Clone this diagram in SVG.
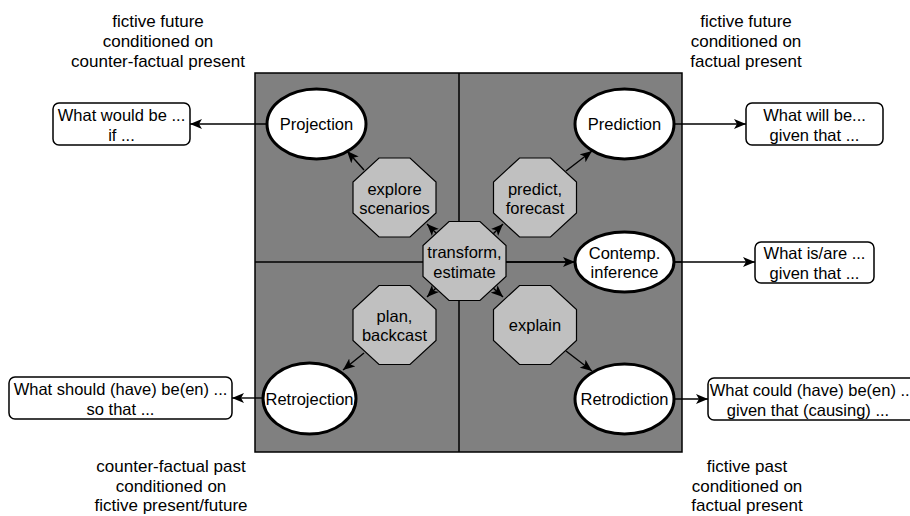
<svg xmlns="http://www.w3.org/2000/svg" width="910" height="516" viewBox="0 0 910 516">
<defs>
<style>
text{font-family:"Liberation Sans",Arial,Helvetica,sans-serif;fill:#000;text-anchor:middle}
.n{font-size:16.5px}
.lab{font-size:17px}
.ell{fill:#fff;stroke:#000;stroke-width:3}
.oct{fill:#c0c0c0;stroke:#000;stroke-width:1.2}
.box{fill:#fff;stroke:#000;stroke-width:1.5}
.edge{stroke:#000;stroke-width:1.4;fill:none;marker-end:url(#arr)}
</style>
<marker id="arr" viewBox="0 0 12 10" refX="12" refY="5" markerWidth="12" markerHeight="10" orient="auto" markerUnits="userSpaceOnUse">
<path d="M0,0 L12,5 L0,10 L3,5 z" fill="#000"/>
</marker>
</defs>
<rect width="910" height="516" fill="#fff"/>

<g id="labels">
<text class="lab" x="158" y="27">fictive future</text>
<text class="lab" x="158" y="47">conditioned on</text>
<text class="lab" x="158" y="67">counter-factual present</text>
<text class="lab" x="746" y="27">fictive future</text>
<text class="lab" x="746" y="47">conditioned on</text>
<text class="lab" x="746" y="67">factual present</text>
<text class="lab" x="171" y="472">counter-factual past</text>
<text class="lab" x="171" y="492">conditioned on</text>
<text class="lab" x="171" y="511">fictive present/future</text>
<text class="lab" x="747" y="472">fictive past</text>
<text class="lab" x="747" y="492">conditioned on</text>
<text class="lab" x="747" y="511">factual present</text>
</g>

<g id="quadrants">
<rect x="255" y="73" width="427" height="379" fill="#808080" stroke="#000" stroke-width="1.5"/>
<line x1="459" y1="73" x2="459" y2="452" stroke="#000" stroke-width="1.5"/>
<line x1="255" y1="262" x2="682" y2="262" stroke="#000" stroke-width="1.5"/>
</g>

<g id="connectors">
<line class="edge" x1="267" y1="124" x2="190" y2="124"/>
<line class="edge" x1="674" y1="124" x2="746" y2="124"/>
<line class="edge" x1="674" y1="262" x2="755" y2="262"/>
<line class="edge" x1="263" y1="398" x2="232" y2="398"/>
<line class="edge" x1="674" y1="399" x2="708" y2="399"/>
<line class="edge" x1="506" y1="262" x2="575" y2="262"/>
<line class="edge" x1="364" y1="170" x2="347" y2="151"/>
<line class="edge" x1="566" y1="171" x2="592" y2="151"/>
<line class="edge" x1="364" y1="353" x2="343" y2="370"/>
<line class="edge" x1="566" y1="351" x2="592" y2="371"/>
<line class="edge" x1="438" y1="235" x2="427" y2="224"/>
<line class="edge" x1="492" y1="235" x2="503" y2="224"/>
<line class="edge" x1="438" y1="286" x2="427" y2="297"/>
<line class="edge" x1="491" y1="286" x2="503" y2="297"/>
</g>

<g id="box-projection">
<rect class="box" x="53" y="103" width="137" height="42" rx="6"/>
<text class="n" x="121.5" y="121">What would be ...</text>
<text class="n" x="121.5" y="141">if ...</text>
</g>
<g id="box-prediction">
<rect class="box" x="746" y="103" width="137" height="42" rx="6"/>
<text class="n" x="814.5" y="121">What will be...</text>
<text class="n" x="814.5" y="141">given that ...</text>
</g>
<g id="box-contemp">
<rect class="box" x="755" y="242" width="119" height="41" rx="6"/>
<text class="n" x="814.5" y="259">What is/are ...</text>
<text class="n" x="814.5" y="279">given that ...</text>
</g>
<g id="box-retrojection">
<rect class="box" x="9" y="377" width="223" height="42" rx="6"/>
<text class="n" x="120.5" y="395">What should (have) be(en) ...</text>
<text class="n" x="120.5" y="415">so that ...</text>
</g>
<g id="box-retrodiction">
<rect class="box" x="708" y="378" width="210" height="42" rx="6"/>
<text class="n" x="812" y="396">What could (have) be(en) ...</text>
<text class="n" x="808" y="416">given that (causing) ...</text>
</g>

<g id="projection">
<ellipse class="ell" cx="316.5" cy="124" rx="49.5" ry="35"/>
<text class="n" x="316.5" y="130">Projection</text>
</g>
<g id="prediction">
<ellipse class="ell" cx="624.5" cy="124" rx="49.5" ry="35"/>
<text class="n" x="624.5" y="130">Prediction</text>
</g>
<g id="contemp">
<ellipse class="ell" cx="624.5" cy="262" rx="49.5" ry="30"/>
<text class="n" x="624.5" y="259">Contemp.</text>
<text class="n" x="624.5" y="278">inference</text>
</g>
<g id="retrojection">
<ellipse class="ell" cx="309.5" cy="398.5" rx="46.5" ry="35.5"/>
<text class="n" x="309.5" y="404.5">Retrojection</text>
</g>
<g id="retrodiction">
<ellipse class="ell" cx="624.5" cy="399" rx="49.5" ry="35"/>
<text class="n" x="624.5" y="405">Retrodiction</text>
</g>

<g id="explore">
<polygon class="oct" points="379,158 410,158 436,182 436,213 410,237 379,237 353,213 353,182"/>
<text class="n" x="394.5" y="195">explore</text>
<text class="n" x="394.5" y="214">scenarios</text>
</g>
<g id="predict">
<polygon class="oct" points="519.5,158 550.5,158 576.5,182 576.5,213 550.5,237 519.5,237 493.5,213 493.5,182"/>
<text class="n" x="535" y="195">predict,</text>
<text class="n" x="535" y="214">forecast</text>
</g>
<g id="plan">
<polygon class="oct" points="379,285.5 410,285.5 436,309.5 436,340.5 410,364.5 379,364.5 353,340.5 353,309.5"/>
<text class="n" x="394.5" y="322">plan,</text>
<text class="n" x="394.5" y="341">backcast</text>
</g>
<g id="explain">
<polygon class="oct" points="519.5,285.5 550.5,285.5 576.5,309.5 576.5,340.5 550.5,364.5 519.5,364.5 493.5,340.5 493.5,309.5"/>
<text class="n" x="535" y="331">explain</text>
</g>
<g id="transform">
<polygon class="oct" points="449,221.5 480,221.5 506,245.5 506,276.5 480,300.5 449,300.5 423,276.5 423,245.5"/>
<text class="n" x="464.5" y="258">transform,</text>
<text class="n" x="464.5" y="278">estimate</text>
</g>
</svg>
